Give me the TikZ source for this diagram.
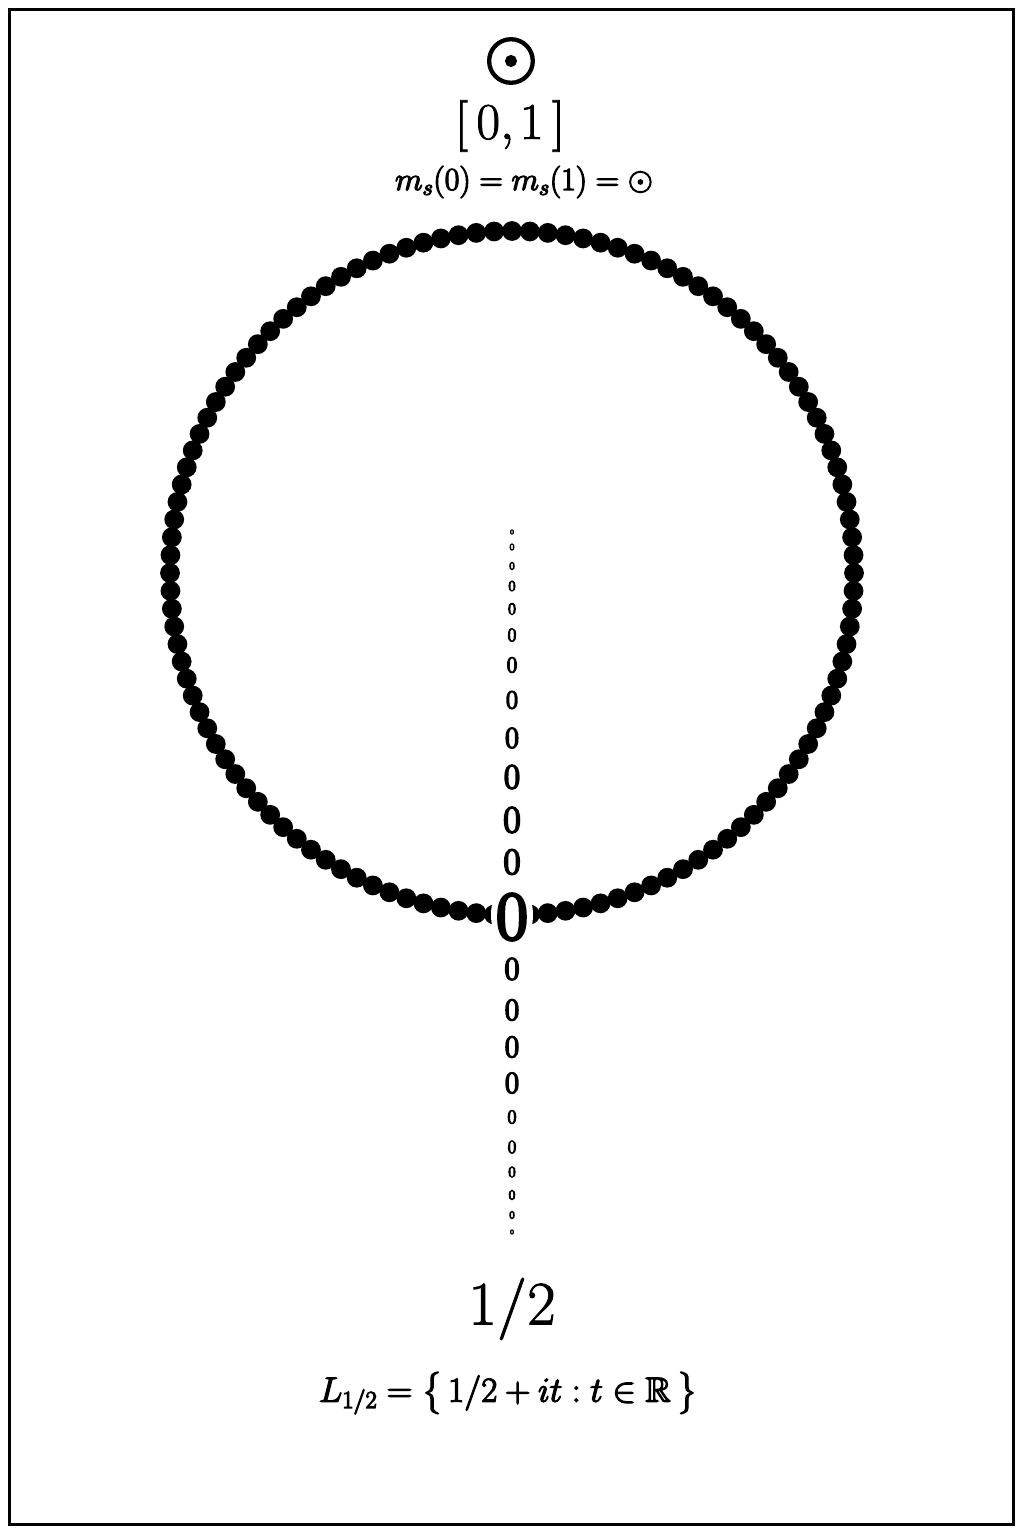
\RequirePackage{fix-cm}
\documentclass[tikz,border=0pt]{standalone}
\usepackage{amsmath}
\usepackage{amssymb}
\usetikzlibrary{shapes.geometric}
\newcommand{\fsz}[1]{\fontsize{#1}{#1}\selectfont}
\newcommand{\heavy}[2]{\special{pdf:literal direct 2 Tr #1 w}#2\special{pdf:literal direct 0 Tr}}
\tikzset{
  frameline/.style={line width=3pt},
  beadfill/.style={fill=black},
  lbl/.style={inner sep=0pt, anchor=center},
  maskshape/.style={ellipse, fill=white, draw=none, inner sep=0pt, minimum width=42pt, minimum height=66pt},
}
\begin{document}
\begin{tikzpicture}[x=1pt,y=-1pt]
\useasboundingbox (0,0) rectangle (1024,1536);
\draw[frameline] (9.5,9.5) rectangle (1013.5,1524.5);

% top labels
\node[lbl] (odottop) at (511,61) {\fsz{68}\heavy{2.6}{$\odot$}};
\node[lbl] (interval) at (510,126) {\fsz{51.5}\heavy{0.8}{$[\,0{,}\mkern2mu1\,]$}};
\node[lbl] (msline) at (524,182) {\fsz{32}\heavy{1.2}{$m_s(0)=m_s(1)=\odot$}};

% circle of beads (120 beads, every 3 degrees; the bottom one lies under the mask)
\foreach \k [evaluate=\k as \ang using 90+\k*3] in {1,...,119}
  \fill[beadfill] ({512+342*cos(\ang)},{573+342*sin(\ang)}) circle (9.9);

% column of zeros
\foreach \yy/\ss [count=\i] in {532/7,547/9.5,566/11,586/15,609/16.5,635/19,665/22.5,700/26,738/30,777/35,820/38,862/37,
   969/32.5,1010/31,1047/31,1083/30.5,1117/19.5,1147/18.5,1172/15.5,1195/14,1215/11,1232/7}
  {\pgfmathsetmacro\ww{0.045*\ss+0.3}
   \node[lbl] (z\i) at (512,\yy) {\fsz{\ss}\heavy{\ww}{$0$}};}

\node[maskshape] (mask) at (512,915) {};
\node[lbl] (bigzero) at (512,917) {\fsz{68}\heavy{3.6}{$0$}};

% bottom labels
\node[lbl] (half) at (512,1309) {\fsz{62}\heavy{0.9}{$1/2$}};
\node[lbl] (line) at (508,1393) {\fontsize{35}{42}\selectfont\heavy{1.2}{$L_{1/2}=\bigl\{\,1/2+it:t\in\mathbb{R}\,\bigr\}$}};
\end{tikzpicture}
\end{document}
